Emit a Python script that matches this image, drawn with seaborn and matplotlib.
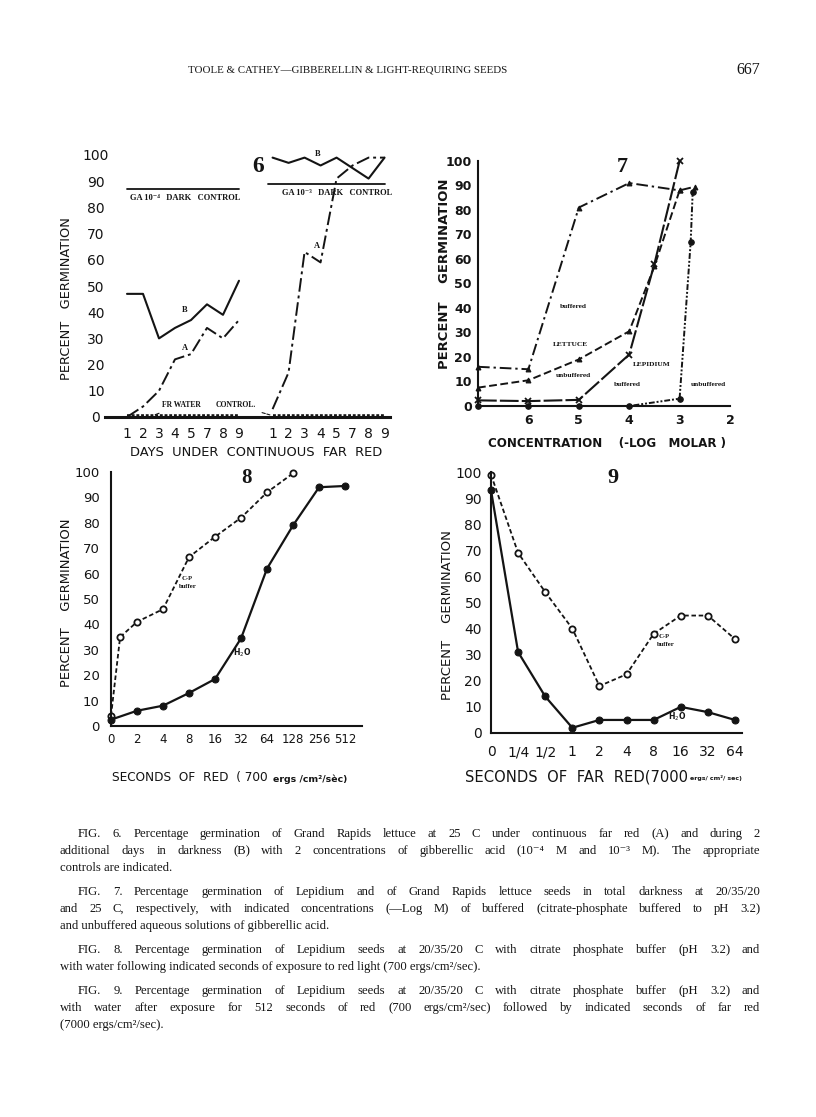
"""Toole & Cathey, p. 667: figures 6-9 redrawn with seaborn."""

import matplotlib

matplotlib.use("Agg")
import matplotlib.pyplot as plt
import seaborn as sns

# ---- data -------------------------------------------------------------
# Fig. 6: days under continuous far red, two GA concentrations
days = ["1", "2", "3", "4", "5", "7", "8", "9"]
fr_a_ga4 = [0, 4, 10, 22, 24, 34, 30, 37]
dark_b_ga4 = [47, 47, 30, 34, 37, 43, 39, 52]
fr_a_ga3 = [3, 17, 63, 59, 91, 96, 99, 99]
dark_b_ga3 = [99, 97, 99, 96, 99, 95, 91, 99]
dark_control_ga4 = 87
dark_control_ga3 = 89
fr_water_control = 0.5

# Fig. 7: concentration (-log molar)
lettuce_buf_conc = [7, 6, 5, 4, 3, 2.7]
lettuce_buf = [16, 15, 81, 91, 88, 89.5]
lettuce_unbuf_conc = [7, 6, 5, 4, 3.5, 3]
lettuce_unbuf = [7.5, 10.5, 19, 30.5, 57, 88]
lepidium_buf_conc = [7, 6, 5, 4, 3.5, 3]
lepidium_buf = [2.3, 2, 2.5, 21, 58, 100]
lepidium_unbuf_conc = [7, 6, 5, 4, 3, 2.78, 2.74]
lepidium_unbuf = [0, 0, 0, 0, 3, 67, 87.5]
conc_ticks = [6, 5, 4, 3, 2]

# Fig. 8: seconds of red
red_labels = ["0", "2", "4", "8", "16", "32", "64", "128", "256", "512"]
red_cp_index = [0, 0.35, 1, 2, 3, 4, 5, 6, 7]
red_cp = [4, 35, 41, 46, 66.5, 74.5, 82, 92, 99.5]
red_h2o = [2.5, 6, 8, 13, 18.5, 34.5, 62, 79, 94, 94.5]

# Fig. 9: seconds of far red after 512 s red
farred_labels = ["0", "1/4", "1/2", "1", "2", "4", "8", "16", "32", "64"]
farred_cp = [99, 69, 54, 40, 18, 22.5, 38, 45, 45, 36]
farred_h2o = [93, 31, 14, 2, 5, 5, 5, 10, 8, 5]

pct_ticks = list(range(0, 101, 10))

# ---- page setup -------------------------------------------------------
W, H = 816, 1117
INK = "#141414"
SANS = ["DejaVu Sans"]
SERIF = ["Liberation Serif", "DejaVu Serif"]

sns.set_style("white")
plt.rcParams["font.family"] = SANS
plt.rcParams["text.color"] = INK
plt.rcParams["axes.edgecolor"] = INK
plt.rcParams["xtick.color"] = INK
plt.rcParams["ytick.color"] = INK

fig = plt.figure(figsize=(W / 100, H / 100), dpi=100)
renderer = fig.canvas.get_renderer()


def rect(left, top, right, bottom):
    return [left / W, 1 - bottom / H, (right - left) / W, (bottom - top) / H]


def put(x, y, s, size, **kw):
    kw.setdefault("ha", "center")
    kw.setdefault("va", "center")
    kw.setdefault("color", INK)
    return fig.text(x / W, 1 - y / H, s, fontsize=size, **kw)


def fit(s, x0, x1, y, size, **kw):
    """Text stretched (by font size) to run from x0 to x1."""
    t = put(x0, y, s, size, ha="left", **kw)
    w = t.get_window_extent(renderer).width
    t.set_fontsize(size * (x1 - x0) / w)
    return t


def fit_vertical(s, x, y0, y1, size, **kw):
    t = put(x, (y0 + y1) / 2, s, size, rotation=90, **kw)
    h = t.get_window_extent(renderer).height
    t.set_fontsize(size * (y1 - y0) / h)
    return t


def caption_line(text, x0, y, x1=None, size=9.1):
    if x1 is None:
        put(x0, y, text, size, ha="left", va="baseline", family=SERIF)
        return
    words = text.split()
    objs = [put(0, y, w, size, ha="left", va="baseline", family=SERIF) for w in words]
    widths = [o.get_window_extent(renderer).width for o in objs]
    gap = (x1 - x0 - sum(widths)) / (len(words) - 1)
    x = x0
    for o, w in zip(objs, widths):
        o.set_x(x / W)
        x += w + gap


def line(ax, x, y, **kw):
    kw.setdefault("color", INK)
    kw.setdefault("clip_on", False)
    sns.lineplot(x=x, y=y, ax=ax, sort=False, errorbar=None, **kw)


# ---- header -----------------------------------------------------------
fit("TOOLE & CATHEY\u2014GIBBERELLIN & LIGHT-REQUIRING SEEDS", 188, 508, 70, 8, family=SERIF)
put(748, 70, "667", 11.5, family=SERIF)

# ---- Fig. 6 -----------------------------------------------------------
ax6 = fig.add_axes(rect(105, 155, 390, 417))
pos_ga4 = [i for i in range(len(days))]
pos_ga3 = [9.1 + i for i in range(len(days))]

line(ax6, pos_ga4, dark_b_ga4, lw=1.5)
line(ax6, pos_ga4, fr_a_ga4, lw=1.4, linestyle=(0, (7, 2, 1.5, 2)))
line(ax6, pos_ga3, dark_b_ga3, lw=1.5)
line(ax6, pos_ga3, fr_a_ga3, lw=1.4, linestyle=(0, (7, 2, 1.5, 2)))
line(ax6, [pos_ga4[0], pos_ga4[-1]], [dark_control_ga4] * 2, lw=1.3)
line(ax6, [pos_ga3[0] - 0.3, pos_ga3[-1]], [dark_control_ga3] * 2, lw=1.3)
line(ax6, pos_ga4, [fr_water_control] * len(days), lw=2.6, linestyle=(0, (0.8, 0.5)))
line(ax6, pos_ga3, [fr_water_control] * len(days), lw=2.6, linestyle=(0, (0.8, 0.5)))

ax6.set_xlim(-1.375, 16.44)
ax6.set_ylim(0, 100)
ax6.set_xticks(pos_ga4 + pos_ga3, days + days)
ax6.set_yticks(pct_ticks)
sns.despine(ax=ax6, left=True)
ax6.spines["bottom"].set_linewidth(2.2)
ax6.tick_params(axis="both", length=0, labelsize=10)
ax6.tick_params(axis="x", pad=7)
ax6.tick_params(axis="y", pad=6.5)
for lab in ax6.get_yticklabels():
    lab.set_ha("center")

fit_vertical("PERCENT   GERMINATION", 67, 217, 380, 10)
fit("DAYS  UNDER  CONTINUOUS  FAR  RED", 130, 383, 452, 10)
put(258, 167, "6", 17, family=SERIF, weight="bold")
fit("GA 10\u207b\u2074   DARK   CONTROL", 130, 240, 198, 5.5, family=SERIF, weight="bold")
fit("GA 10\u207b\u00b3   DARK   CONTROL", 282, 392, 193, 5.5, family=SERIF, weight="bold")
for x, y, s in [(185, 310, "B"), (318, 154, "B"), (185, 348, "A"), (317, 246, "A")]:
    put(x, y, s, 6, family=SERIF, weight="bold")
ax6.annotate("FR WATER", xy=(pos_ga4[1] + 0.6, fr_water_control), xycoords="data",
             xytext=(181, H - 405), textcoords="figure pixels",
             fontsize=5.5, family=SERIF, weight="bold", ha="center", va="center", color=INK,
             arrowprops=dict(arrowstyle="-", color=INK, lw=0.8))
ax6.annotate("CONTROL.", xy=(pos_ga3[0], fr_water_control), xycoords="data",
             xytext=(236, H - 405), textcoords="figure pixels",
             fontsize=5.5, family=SERIF, weight="bold", ha="center", va="center", color=INK,
             arrowprops=dict(arrowstyle="-", color=INK, lw=0.8, linestyle=(0, (3, 1.5))))

# ---- Fig. 7 -----------------------------------------------------------
ax7 = fig.add_axes(rect(478, 161, 730, 406))
line(ax7, lettuce_buf_conc, lettuce_buf, lw=1.4, linestyle=(0, (6, 2, 1.2, 2)),
     marker="^", ms=3.5, mfc=INK, mec=INK)
line(ax7, lettuce_unbuf_conc, lettuce_unbuf, lw=1.4, linestyle=(0, (4, 1.8)),
     marker="^", ms=3.5, mfc=INK, mec=INK)
line(ax7, lepidium_buf_conc, lepidium_buf, lw=1.5, linestyle=(0, (9, 1.5)),
     marker="x", ms=4, mew=1.3, mec=INK)
line(ax7, lepidium_unbuf_conc, lepidium_unbuf, lw=1.4, linestyle=(0, (3, 1, 1, 1, 1, 1)),
     marker="o", ms=4, mfc=INK, mec=INK)

ax7.set_xlim(7, 2)
ax7.set_ylim(0, 100)
ax7.set_xticks(conc_ticks)
ax7.set_yticks(pct_ticks)
sns.despine(ax=ax7)
for sp in ("left", "bottom"):
    ax7.spines[sp].set_linewidth(1.5)
ax7.tick_params(axis="both", direction="out", length=3.5, width=1.2, labelsize=9)
ax7.tick_params(axis="y", pad=1)
ax7.tick_params(axis="x", pad=2)
for lab in ax7.get_xticklabels() + ax7.get_yticklabels():
    lab.set_fontweight("bold")

fit_vertical("PERCENT    GERMINATION", 445, 180, 368, 9, weight="bold")
fit("CONCENTRATION    (-LOG   MOLAR )", 488, 725, 443, 9, weight="bold")
put(622, 167, "7", 16, family=SERIF, weight="bold")
for x, y, s in [(573, 306, "buffered"), (570, 345, "LETTUCE"), (573, 375, "unbuffered"),
                (652, 365, "LEPIDIUM"), (627, 384, "buffered"), (708, 385, "unbuffered")]:
    put(x, y, s, 5.3, family=SERIF, weight="bold")

# ---- Fig. 8 -----------------------------------------------------------
ax8 = fig.add_axes(rect(111, 472, 362, 726))
line(ax8, red_cp_index, red_cp, lw=1.3, linestyle=(0, (2.5, 1.5)),
     marker="o", ms=4.5, mfc="white", mec=INK, mew=1.3)
line(ax8, list(range(len(red_labels))), red_h2o, lw=1.6,
     marker="o", ms=5, mfc=INK, mec=INK)

ax8.set_xlim(0, 9.65)
ax8.set_ylim(0, 100)
ax8.set_xticks(range(len(red_labels)), red_labels)
ax8.set_yticks(pct_ticks)
sns.despine(ax=ax8)
for sp in ("left", "bottom"):
    ax8.spines[sp].set_linewidth(1.5)
ax8.tick_params(axis="x", direction="in", length=4, width=1.2, labelsize=8.5, pad=5)
ax8.tick_params(axis="y", direction="out", length=3, width=1.2, labelsize=9.5, pad=5)

fit_vertical("PERCENT    GERMINATION", 67, 518, 687, 10)
fit("SECONDS  OF  RED  ( 700", 112, 268, 778, 10)
fit("ergs /cm\u00b2/s\u00e8c)", 273, 348, 779, 7, weight="bold")
put(247, 478, "8", 15, family=SERIF, weight="bold")
put(187, 579, "C-P", 4.8, family=SERIF, weight="bold")
put(188, 586, "buffer", 4.8, family=SERIF, weight="bold")
put(242, 653, "H$_2$O", 5.5, weight="bold")

# ---- Fig. 9 -----------------------------------------------------------
ax9 = fig.add_axes(rect(491, 472, 742, 733))
farred_index = list(range(len(farred_labels)))
line(ax9, farred_index, farred_cp, lw=1.3, linestyle=(0, (2.5, 1.5)),
     marker="o", ms=4.5, mfc="white", mec=INK, mew=1.3)
line(ax9, farred_index, farred_h2o, lw=1.6,
     marker="o", ms=5, mfc=INK, mec=INK)

ax9.set_xlim(0, 9.26)
ax9.set_ylim(0, 100)
ax9.set_xticks(farred_index, farred_labels)
ax9.set_yticks(pct_ticks)
sns.despine(ax=ax9)
for sp in ("left", "bottom"):
    ax9.spines[sp].set_linewidth(1.5)
ax9.tick_params(axis="both", length=0, labelsize=10)
ax9.tick_params(axis="x", pad=9)
ax9.tick_params(axis="y", pad=6.5)

fit_vertical("PERCENT    GERMINATION", 447, 530, 700, 10)
fit("SECONDS  OF  FAR  RED(7000", 465, 686, 777, 10)
fit("ergs/ cm\u00b2/ sec)", 690, 742, 778, 7, weight="bold")
put(613, 478, "9", 16, family=SERIF, weight="bold")
put(664, 637, "C-P", 4.8, family=SERIF, weight="bold")
put(666, 644, "buffer", 4.8, family=SERIF, weight="bold")
put(677, 717, "H$_2$O", 5.5, weight="bold")

# ---- captions ---------------------------------------------------------
L, R, IND = 60, 760, 78
caption_line("FIG. 6.  Percentage germination of Grand Rapids lettuce at 25 C under continuous far red (A) and during 2", IND, 837, R)
caption_line("additional days in darkness (B) with 2 concentrations of gibberellic acid (10\u207b\u2074 M and 10\u207b\u00b3 M).  The appropriate", L, 854, R)
caption_line("controls are indicated.", L, 871)
caption_line("FIG. 7.  Percentage germination of Lepidium and of Grand Rapids lettuce seeds in total darkness at 20/35/20", IND, 895, R)
caption_line("and 25 C, respectively, with indicated concentrations (\u2014Log M) of buffered (citrate-phosphate buffered to pH 3.2)", L, 912, R)
caption_line("and unbuffered aqueous solutions of gibberellic acid.", L, 929)
caption_line("FIG. 8.  Percentage germination of Lepidium seeds at 20/35/20 C with citrate phosphate buffer (pH 3.2) and", IND, 953, R)
caption_line("with water following indicated seconds of exposure to red light (700 ergs/cm\u00b2/sec).", L, 970)
caption_line("FIG. 9.  Percentage germination of Lepidium seeds at 20/35/20 C with citrate phosphate buffer (pH 3.2) and", IND, 994, R)
caption_line("with water after exposure for 512 seconds of red (700 ergs/cm\u00b2/sec) followed by indicated seconds of far red", L, 1011, R)
caption_line("(7000 ergs/cm\u00b2/sec).", L, 1028)

fig.savefig("out.png", dpi=100, facecolor="white")
plt.close(fig)
